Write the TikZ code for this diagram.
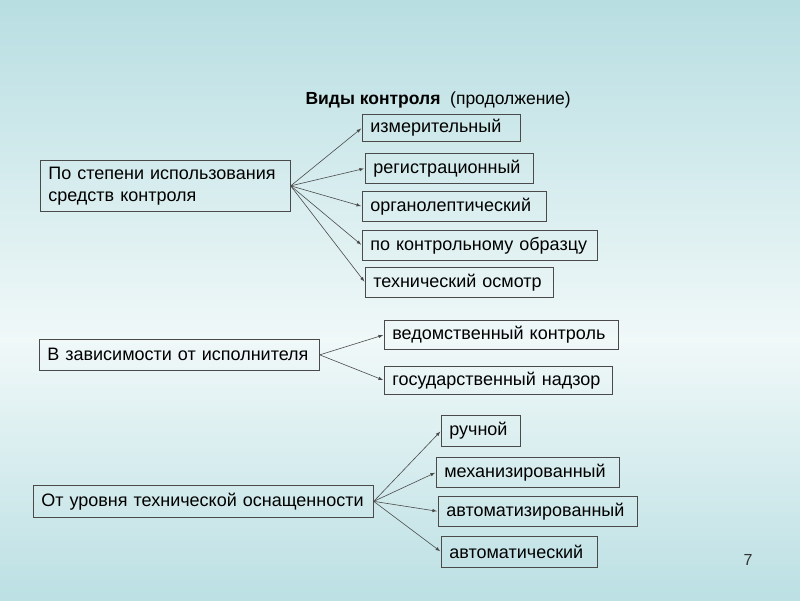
\documentclass[tikz,border=0pt]{standalone}
\usepackage{fontspec}
\setmainfont{Liberation Sans}
\usetikzlibrary{arrows}

\definecolor{bgteal}{HTML}{B8DEE2}
\definecolor{bglight}{HTML}{F0F8F8}
\definecolor{edge}{HTML}{4A4A4A}

\tikzset{
  box/.style={draw=edge, line width=0.7pt, inner xsep=8pt, inner ysep=0pt,
    anchor=north west, align=left, font=\fontsize{18}{22}\selectfont},
  link/.style={-latex, draw=edge, line width=0.6pt, shorten >=1pt}
}

\begin{document}
\begin{tikzpicture}[x=1pt, y=-1pt]
        % background
        \shade[top color=bgteal, bottom color=bglight] (0,0) rectangle (800,340);
        \shade[top color=bglight, bottom color=bgteal!95!white] (0,340) rectangle (800,600);
        \useasboundingbox (0,0) rectangle (800,600);

        \node[anchor=west, font=\fontsize{17.5}{21}\selectfont] (title) at (302,100)
          {\textbf{Виды контроля}\ \ (продолжение)};

        % first group
        \node[box, text width=234pt, minimum height=51pt] (A) at (40,160)
          {По степени использования\\средств контроля};
        \node[box, text width=142pt, minimum height=27pt] (izm) at (362,114) {измерительный};
        \node[box, text width=152pt, minimum height=30pt] (reg) at (365,153) {регистрационный};
        \node[box, text width=168pt, minimum height=30pt] (org) at (362,191) {органолептический};
        \node[box, text width=219pt, minimum height=30pt] (obr) at (362,230) {по контрольному образцу};
        \node[box, text width=172pt, minimum height=30pt] (osm) at (365,267) {технический осмотр};

        \draw[link] (A.east) to (izm.west);
        \draw[link] (A.east) to (reg.west);
        \draw[link] (A.east) to (org.west);
        \draw[link] (A.east) to (obr.west);
        \draw[link] (A.east) to (osm.west);

        % second group
        \node[box, text width=264pt, minimum height=31pt] (B) at (39,339)
          {В зависимости от исполнителя};
        \node[box, text width=218pt, minimum height=29pt] (ved) at (384,320) {ведомственный контроль};
        \node[box, text width=212pt, minimum height=28pt] (gos) at (384,366) {государственный надзор};

        \draw[link] (B.east) to (ved.west);
        \draw[link] (B.east) to (gos.west);

        % third group
        \node[box, text width=324pt, minimum height=32pt] (C) at (33,485)
          {От уровня технической оснащенности};
        \node[box, text width=63pt, minimum height=31pt] (ruch) at (441,415) {ручной};
        \node[box, text width=167pt, minimum height=30pt] (mech) at (436,457) {механизированный};
        \node[box, text width=183pt, minimum height=30pt] (avtz) at (438,496) {автоматизированный};
        \node[box, text width=140pt, minimum height=31pt] (avt) at (441,536) {автоматический};

        \draw[link] (C.east) to (ruch.west);
        \draw[link] (C.east) to (mech.west);
        \draw[link] (C.east) to (avtz.west);
        \draw[link] (C.east) to (avt.west);

        \node[font=\fontsize{16}{19}\selectfont, text=black!80] (page) at (748,560) {7};
      \end{tikzpicture}
\end{document}
